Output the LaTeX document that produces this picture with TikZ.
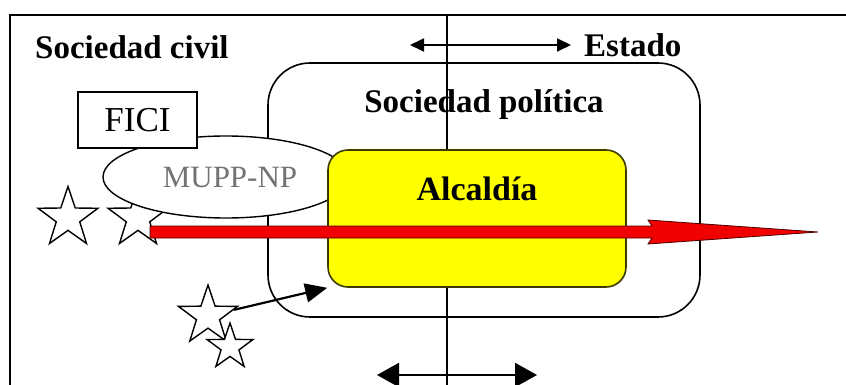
\documentclass[tikz,border=0pt]{standalone}
\usepackage{fontspec}
\setmainfont{Liberation Serif}
\usetikzlibrary{shapes.geometric,arrows.meta}
\definecolor{ybox}{RGB}{255,255,0}
\definecolor{yedge}{RGB}{60,60,0}
\definecolor{redar}{RGB}{240,0,0}
\tikzset{
  x=1pt,y=-1pt,
  lbl/.style={font=\fontsize{33}{38}\selectfont\bfseries, inner sep=0pt},
  starnode/.style={star, star points=5, star point ratio=2.55, draw=black, fill=white, line width=1.4pt, inner sep=0pt, minimum size=#1},
  thinln/.style={line width=1.8pt, black},
}
\begin{document}
\begin{tikzpicture}
\useasboundingbox (0,0) rectangle (846,385);
% frame
\coordinate (ftl) at (10,15);
\coordinate (fbl) at (10,385);
\coordinate (ftr) at (846,15);
\draw[thinln] (fbl) -- (ftl) -- (ftr);
% political society box
\node[draw, line width=1.6pt, fill=white, rounded corners=42pt, minimum width=432pt, minimum height=254pt, inner sep=0pt] (pol) at (484,190) {};
% vertical divider
\coordinate (vt) at (447,15);
\coordinate (vb) at (447,385);
\draw[thinln] (vt) -- (vb);
% labels
\node[lbl, anchor=west] (civ) at (35,47) {Sociedad civil};
\node[lbl, anchor=west] (est) at (584,45) {Estado};
\node[lbl] (polt) at (484,105) {Sociedad política};
% top double arrow
\coordinate (ta) at (410,45);
\coordinate (tb) at (571,45);
\draw[line width=1.8pt, {Triangle[length=14pt,width=13pt]}-{Triangle[length=14pt,width=13pt]}] (ta) -- (tb);
% stars behind ellipse
\node[starnode=63pt] (s1) at (68,218) {};
\node[starnode=63pt] (s2) at (138,218) {};
% ellipse
\node[ellipse, draw, line width=1.4pt, fill=white, minimum width=246pt, minimum height=82pt, inner sep=0pt] (mupp) at (226,177) {};
\node[font=\fontsize{31}{36}\selectfont, text=black!55, inner sep=0pt] (muppt) at (230,178) {MUPP-NP};
% FICI box
\node[draw, line width=1.4pt, fill=white, minimum width=119pt, minimum height=56pt, inner sep=0pt, font=\fontsize{35}{40}\selectfont] (fici) at (137.5,120) {FICI};
% Alcaldia box
\node[draw=yedge, line width=1.6pt, fill=ybox, rounded corners=20pt, minimum width=298pt, minimum height=137pt, inner sep=0pt] (alc) at (477,218.5) {};
\node[lbl, font=\fontsize{34}{38}\selectfont\bfseries] (alct) at (477,189) {Alcaldía};
% red arrow
\coordinate (ra) at (150,232);
\coordinate (rt) at (818,232);
\fill[redar, draw=black!70!red, line width=0.8pt]
  (ra) ++(0,-6) -- (652,226) -- (648,220) -- (rt) -- (648,244) -- (652,238) -- (150,238) -- cycle;
% lower stars
\node[starnode=62pt] (s3) at (208,316) {};
\node[starnode=48pt] (s4) at (230,347) {};
% black arrow
\draw[line width=2.2pt, -{Triangle[length=22pt,width=19pt]}] (s3) -- (alc.south west);
% bottom double arrow
\coordinate (ba) at (377,375);
\coordinate (bb) at (537,375);
\draw[line width=2pt, {Triangle[length=22pt,width=24pt]}-{Triangle[length=22pt,width=24pt]}] (ba) -- (bb);
\end{tikzpicture}
\end{document}
